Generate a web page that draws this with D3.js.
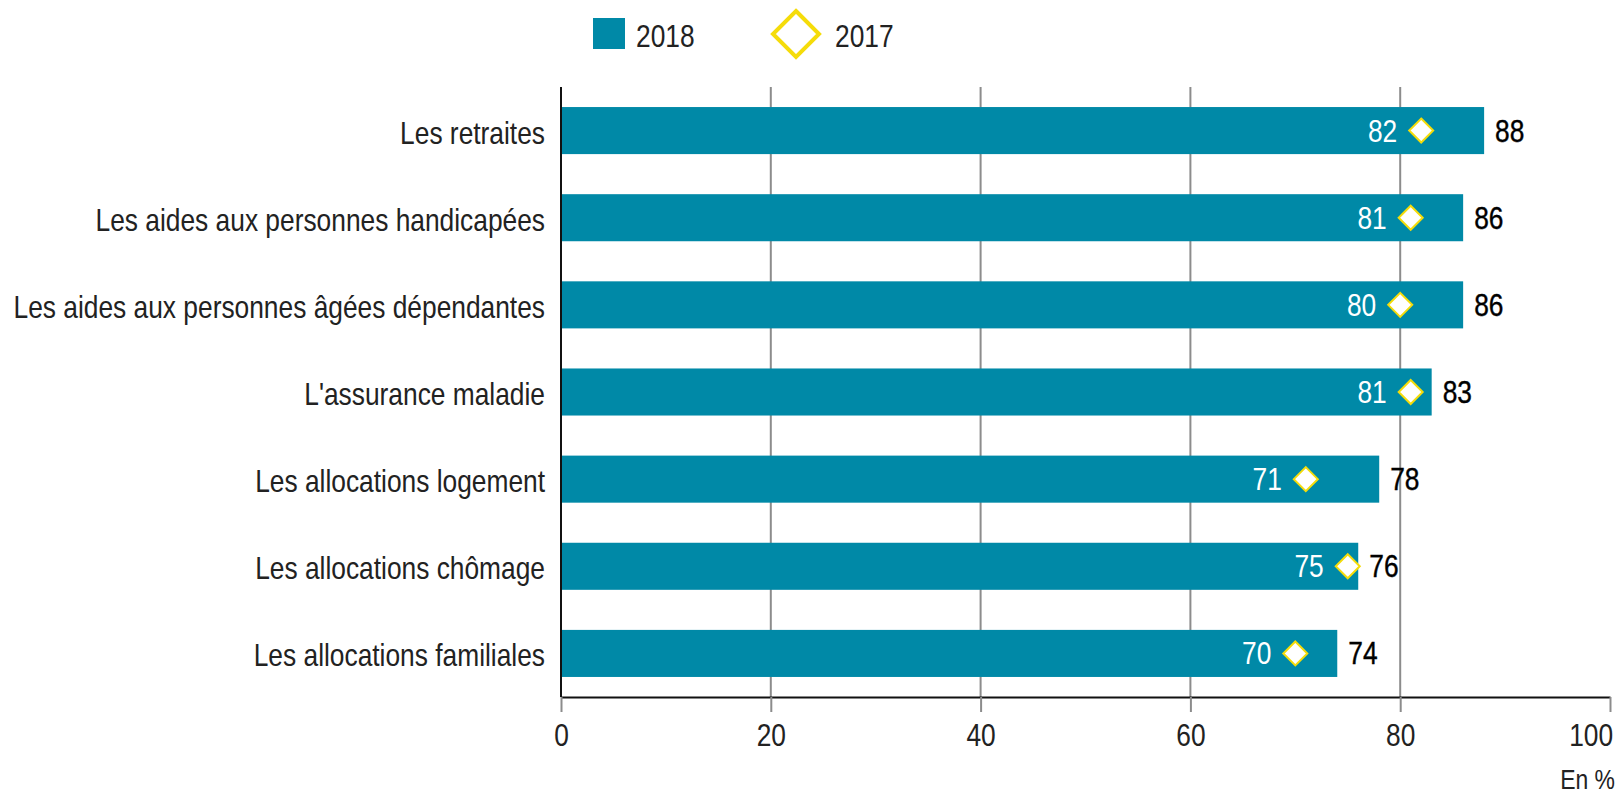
<!DOCTYPE html>
<html>
<head>
<meta charset="utf-8">
<script src="https://cdn.jsdelivr.net/npm/d3@7"></script>
<style>
  body { margin: 0; background: #fff; }
  text { font-family: "Liberation Sans", Arial, sans-serif; }
</style>
</head>
<body>
<div id="graph"></div>
<script>
// data
const categories = ["Les retraites", "Les aides aux personnes handicapées", "Les aides aux personnes âgées dépendantes",
  "L'assurance maladie", "Les allocations logement", "Les allocations chômage", "Les allocations familiales"]
const values2018 = [88, 86, 86, 83, 78, 76, 74]
const values2017 = [82, 81, 80, 81, 71, 75, 70]
const tickValues = [0, 20, 40, 60, 80, 100]
const seriesNames = ["2018", "2017"]

const WIDTH = 1620, HEIGHT = 793
const TEAL = "#0089a7", YELLOW = "#f5dc0a", GRID = "#8c8c8c"
const FONT = 31
const SX = 0.85   // horizontal squeeze, the original uses a condensed face

const svg = d3.select("#graph").append("svg")
  .attr("width", WIDTH)
  .attr("height", HEIGHT)

const x = d3.scaleLinear().domain([0, 100]).range([561, 1610])
const y = d3.scaleBand().domain(categories).range([87, 697])
  .paddingInner(0.46).paddingOuter(0.23)
const yMid = d => y(d) + y.bandwidth() / 2

// puts a text at (px, py) and squeezes it horizontally
function place(sel, px, py) {
  sel.attr("transform", (d, i) => `translate(${px(d, i)},${py(d, i)}) scale(${SX},1)`)
}

// grid lines
svg.selectAll(".grid")
  .data(tickValues.filter(d => d > 0 && d < 100))
  .enter()
  .append("line")
    .attr("x1", d => x(d)).attr("x2", d => x(d))
    .attr("y1", 87).attr("y2", 697)
    .attr("stroke", GRID)
    .attr("stroke-width", 2)

// bottom axis
const xAxis = svg.append("g")
  .attr("transform", "translate(0,697)")
  .call(d3.axisBottom(x).tickValues(tickValues).tickSize(15).tickSizeOuter(0).tickPadding(12))
xAxis.attr("font-family", null).attr("font-size", null)
xAxis.select(".domain").attr("stroke", "#111").attr("stroke-width", 2)
xAxis.selectAll(".tick line").attr("stroke", GRID).attr("stroke-width", 2)
xAxis.selectAll(".tick text")
  .attr("font-size", FONT)
  .attr("fill", "#222")
  .attr("transform", `scale(${SX},1)`)
xAxis.selectAll(".tick text").filter(d => d === 100)
  .attr("text-anchor", "end").attr("x", 3)

// left axis line
svg.append("line")
  .attr("x1", x(0)).attr("x2", x(0))
  .attr("y1", 87).attr("y2", 697)
  .attr("stroke", "#111")
  .attr("stroke-width", 2)

// category labels
svg.selectAll(".cat")
  .data(categories)
  .enter()
  .append("text")
    .attr("text-anchor", "end")
    .attr("font-size", FONT)
    .attr("fill", "#222")
    .text(d => d)
    .call(place, () => 545, d => yMid(d) + 13)

// bars 2018
svg.selectAll(".bar")
  .data(values2018)
  .enter()
  .append("rect")
    .attr("x", x(0) + 1)
    .attr("y", (d, i) => y(categories[i]))
    .attr("width", d => x(d) - x(0) - 1)
    .attr("height", y.bandwidth())
    .attr("fill", TEAL)

// 2018 labels
svg.selectAll(".lab18")
  .data(values2018)
  .enter()
  .append("text")
    .attr("font-size", FONT)
    .attr("fill", "#000")
    .style("stroke", "#000").style("stroke-width", 0.4)
    .text(d => d)
    .call(place, d => x(d) + 11, (d, i) => yMid(categories[i]) + 11)

// 2017 diamonds
const diamond = r => `M0,${-r}L${r},0L0,${r}L${-r},0Z`
svg.selectAll(".dia")
  .data(values2017)
  .enter()
  .append("path")
    .attr("transform", (d, i) => `translate(${x(d)},${yMid(categories[i])})`)
    .attr("d", diamond(12))
    .attr("fill", "#fff")
    .attr("stroke", YELLOW)
    .attr("stroke-width", 2)

// 2017 labels
svg.selectAll(".lab17")
  .data(values2017)
  .enter()
  .append("text")
    .attr("text-anchor", "end")
    .attr("font-size", FONT)
    .attr("fill", "#fff")
    .text(d => d)
    .call(place, d => x(d) - 24, (d, i) => yMid(categories[i]) + 11)

// legend
const legend = svg.append("g")
legend.append("rect")
  .attr("x", 593).attr("y", 18)
  .attr("width", 32).attr("height", 31)
  .attr("fill", TEAL)
legend.append("text")
  .attr("font-size", FONT).attr("fill", "#222")
  .text(seriesNames[0])
  .call(place, () => 636, () => 47)
legend.append("path")
  .attr("transform", "translate(796,34)")
  .attr("d", diamond(23))
  .attr("fill", "#fff")
  .attr("stroke", YELLOW)
  .attr("stroke-width", 4)
legend.append("text")
  .attr("font-size", FONT).attr("fill", "#222")
  .text(seriesNames[1])
  .call(place, () => 835, () => 47)

// unit
svg.append("text")
  .attr("text-anchor", "end")
  .attr("font-size", 27)
  .attr("fill", "#222")
  .text("En %")
  .call(place, () => 1615, () => 789)
</script>
</body>
</html>
